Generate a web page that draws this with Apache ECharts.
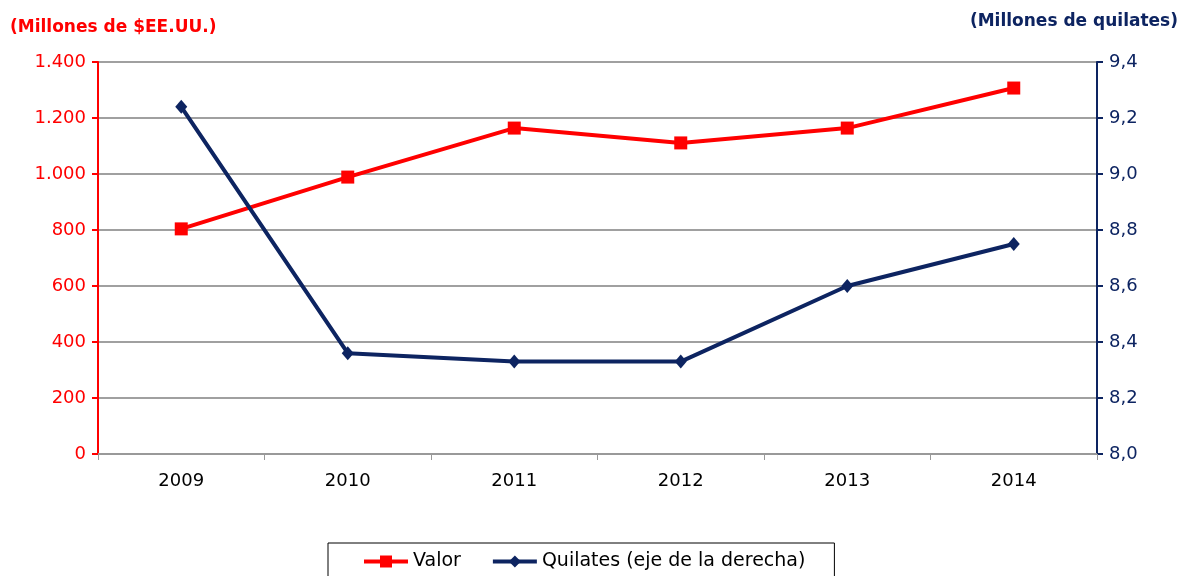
<!DOCTYPE html>
<html><head><meta charset="utf-8">
<script src="https://cdn.jsdelivr.net/npm/echarts@6/dist/echarts.min.js"></script>
<style>html,body{margin:0;padding:0;background:#fff}#c{width:1181px;height:576px}</style>
</head><body><div id="c"></div>
<script>
const years = ['2009','2010','2011','2012','2013','2014'];
const valor = [804, 989, 1164, 1111, 1164, 1307];
const quilates = [9.24, 8.36, 8.33, 8.33, 8.60, 8.75];
const leftTitle = '(Millones de $EE.UU.)';
const rightTitle = '(Millones de quilates)';
const RED = '#ff0000', NAVY = '#0d2461';
const FONT = 'DejaVu Sans';
const chart = echarts.init(document.getElementById('c'));
chart.setOption({
  animation:false,
  textStyle:{fontFamily:FONT},
  grid:{left:98,right:84,top:62,bottom:122,containLabel:false},
  graphic:[
    {type:'text',left:10,top:19,style:{text:leftTitle,fill:RED,font:'bold 17px "DejaVu Sans"'}},
    {type:'text',right:3,top:13,style:{text:rightTitle,fill:NAVY,font:'bold 17px "DejaVu Sans"'}}
  ],
  legend:{
    data:['Valor','Quilates (eje de la derecha)'],
    left:328, top:543,
    padding:[9,29,12,34],
    borderColor:'#000', borderWidth:1,
    itemWidth:44, itemHeight:15, itemGap:30,
    lineStyle:{width:4},
    textStyle:{fontSize:19,color:'#000',fontFamily:FONT}
  },
  xAxis:{
    type:'category', data:years, boundaryGap:true,
    axisLine:{lineStyle:{color:'#999',width:2}},
    axisTick:{show:true,length:6,lineStyle:{color:'#999'}},
    axisLabel:{fontSize:18,color:'#000',margin:18,fontFamily:FONT},
    splitLine:{show:false}
  },
  yAxis:[
    {type:'value',min:0,max:1400,interval:200,position:'left',
     axisLine:{show:true,lineStyle:{color:RED,width:2}},
     axisTick:{show:true,length:6,lineStyle:{color:RED,width:2}},
     axisLabel:{fontSize:18,color:RED,margin:12,fontFamily:FONT,
       formatter:v=>v>=1000?(Math.floor(v/1000)+'.'+String(v%1000).padStart(3,'0')):String(v)},
     splitLine:{show:true,lineStyle:{color:'#a0a0a0',width:2}}},
    {type:'value',min:8.0,max:9.4,interval:0.2,position:'right',
     axisLine:{show:true,lineStyle:{color:NAVY,width:2}},
     axisTick:{show:true,length:6,lineStyle:{color:NAVY,width:2}},
     axisLabel:{fontSize:18,color:NAVY,margin:12,fontFamily:FONT,
       formatter:v=>v.toFixed(1).replace('.',',')},
     splitLine:{show:false}}
  ],
  series:[
    {name:'Valor',type:'line',yAxisIndex:0,data:valor,
     symbol:'rect',symbolSize:13,showAllSymbol:true,
     lineStyle:{color:RED,width:4},itemStyle:{color:RED},z:3},
    {name:'Quilates (eje de la derecha)',type:'line',yAxisIndex:1,data:quilates,
     symbol:'diamond',symbolSize:[12,14],
     lineStyle:{color:NAVY,width:4},itemStyle:{color:NAVY},z:4}
  ]
});
</script></body></html>
